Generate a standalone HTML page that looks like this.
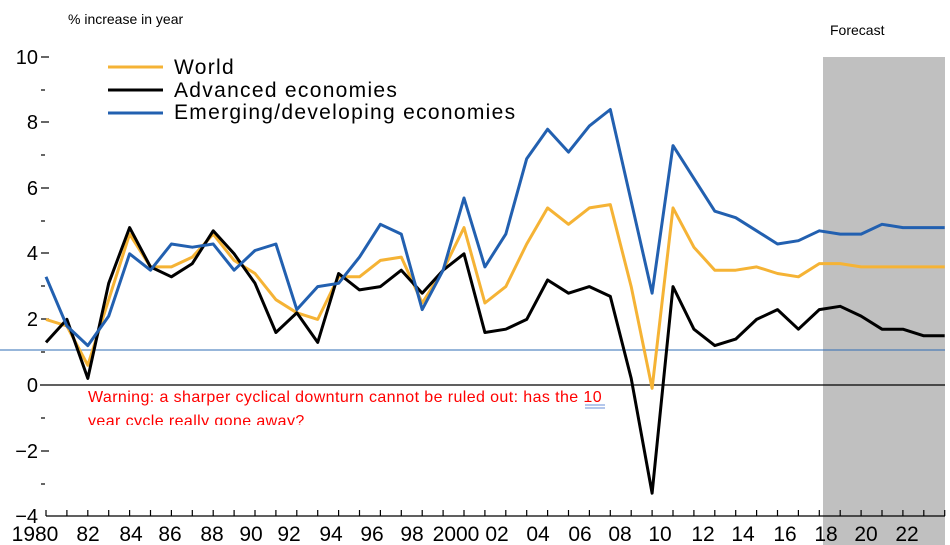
<!DOCTYPE html>
<html><head><meta charset="utf-8"><style>
body{margin:0;background:#fff;width:950px;height:545px;overflow:hidden}
svg{display:block}
text{font-family:"Liberation Sans",sans-serif}
</style></head><body>
<svg width="950" height="545" viewBox="0 0 950 545">
<rect x="823" y="57" width="122" height="488" fill="#c0c0c0"/>
<text x="830" y="35" font-size="14" fill="#000">Forecast</text>
<text x="68" y="24" font-size="14" fill="#000">% increase in year</text>
<g font-size="20" fill="#000" text-anchor="end">
<text x="38" y="64">10</text><text x="38" y="129">8</text><text x="38" y="195">6</text>
<text x="38" y="260">4</text><text x="38" y="326">2</text><text x="38" y="392">0</text>
<text x="38" y="458">−2</text><text x="38" y="523">−4</text>
</g>
<g stroke="#000" stroke-width="1.2">
<line x1="41" y1="57" x2="49" y2="57"/><line x1="41" y1="122" x2="49" y2="122"/><line x1="41" y1="188" x2="49" y2="188"/><line x1="41" y1="253" x2="49" y2="253"/><line x1="41" y1="319" x2="49" y2="319"/><line x1="41" y1="451" x2="49" y2="451"/>
<line x1="41" y1="90" x2="45" y2="90"/><line x1="41" y1="155" x2="45" y2="155"/><line x1="41" y1="221" x2="45" y2="221"/><line x1="41" y1="286" x2="45" y2="286"/><line x1="41" y1="352" x2="45" y2="352"/><line x1="41" y1="418" x2="45" y2="418"/><line x1="41" y1="484" x2="45" y2="484"/>
<line x1="40" y1="385" x2="945" y2="385"/>
<line x1="46" y1="516" x2="945" y2="516"/>
</g>
<g stroke="#000" stroke-width="1.2" id="xt"></g>
<line x1="0" y1="350" x2="945" y2="350" stroke="#2f6db5" stroke-width="1"/>
<g font-size="21" fill="#000" text-anchor="middle">
<text x="35" y="541">1980</text><text x="88" y="541">82</text><text x="131" y="541">84</text><text x="170" y="541">86</text><text x="212" y="541">88</text><text x="251" y="541">90</text><text x="289" y="541">92</text><text x="331" y="541">94</text><text x="372" y="541">96</text><text x="412" y="541">98</text><text x="456" y="541">2000</text><text x="497" y="541">02</text><text x="538" y="541">04</text><text x="580" y="541">06</text><text x="620" y="541">08</text><text x="660" y="541">10</text><text x="703" y="541">12</text><text x="743" y="541">14</text><text x="785" y="541">16</text><text x="826" y="541">18</text><text x="866" y="541">20</text><text x="907" y="541">22</text>
</g>
<g id="series"></g>
<line x1="108" y1="67" x2="163" y2="67" stroke="#f5b335" stroke-width="3"/>
<line x1="108" y1="90" x2="163" y2="90" stroke="#000" stroke-width="3"/>
<line x1="108" y1="113" x2="163" y2="113" stroke="#2260b0" stroke-width="3"/>
<g font-size="21" fill="#000" letter-spacing="1.3">
<text x="174" y="74">World</text><text x="174" y="97">Advanced economies</text><text x="174" y="119">Emerging/developing economies</text>
</g>
<text x="88" y="402" font-size="16" letter-spacing="0.4" fill="#f00">Warning: a sharper cyclical downturn cannot be ruled out: has the <tspan fill="#f00">10</tspan></text>
<line x1="585" y1="405" x2="605" y2="405" stroke="#6a8fd8" stroke-width="1"/>
<line x1="585" y1="408" x2="605" y2="408" stroke="#6a8fd8" stroke-width="1"/>
<svg x="0" y="405" width="950" height="20"><text x="88" y="21" font-size="16" letter-spacing="0.4" fill="#f00">year cycle really gone away?</text></svg>
</svg>
<script>
var W=[2.0,1.8,0.6,2.6,4.6,3.6,3.6,3.9,4.6,3.8,3.4,2.6,2.2,2.0,3.3,3.3,3.8,3.9,2.5,3.5,4.8,2.5,3.0,4.3,5.4,4.9,5.4,5.5,3.0,-0.1,5.4,4.2,3.5,3.5,3.6,3.4,3.3,3.7,3.7,3.6,3.6,3.6,3.6,3.6];
var A=[1.3,2.0,0.2,3.1,4.8,3.6,3.3,3.7,4.7,4.0,3.1,1.6,2.2,1.3,3.4,2.9,3.0,3.5,2.8,3.5,4.0,1.6,1.7,2.0,3.2,2.8,3.0,2.7,0.2,-3.3,3.0,1.7,1.2,1.4,2.0,2.3,1.7,2.3,2.4,2.1,1.7,1.7,1.5,1.5];
var E=[3.3,1.8,1.2,2.1,4.0,3.5,4.3,4.2,4.3,3.5,4.1,4.3,2.3,3.0,3.1,3.9,4.9,4.6,2.3,3.5,5.7,3.6,4.6,6.9,7.8,7.1,7.9,8.4,5.6,2.8,7.3,6.3,5.3,5.1,4.7,4.3,4.4,4.7,4.6,4.6,4.9,4.8,4.8,4.8];
function X(i){return 46+20.9*i}
function pts(d){return d.map(function(v,i){return X(i).toFixed(1)+","+(385-32.8*v).toFixed(1)}).join(" ")}
var ns="http://www.w3.org/2000/svg",g=document.getElementById("series");
[[W,"#f5b335"],[A,"#000"],[E,"#2260b0"]].forEach(function(s){var p=document.createElementNS(ns,"polyline");p.setAttribute("points",pts(s[0]));p.setAttribute("fill","none");p.setAttribute("stroke",s[1]);p.setAttribute("stroke-width","3");p.setAttribute("stroke-linejoin","round");g.appendChild(p)});
var xt=document.getElementById("xt");
for(var y=0;y<=43;y++){var l=document.createElementNS(ns,"line");var x=X(y);l.setAttribute("x1",x);l.setAttribute("x2",x);l.setAttribute("y1",510);l.setAttribute("y2",516);xt.appendChild(l)}
</script>
</body></html>
